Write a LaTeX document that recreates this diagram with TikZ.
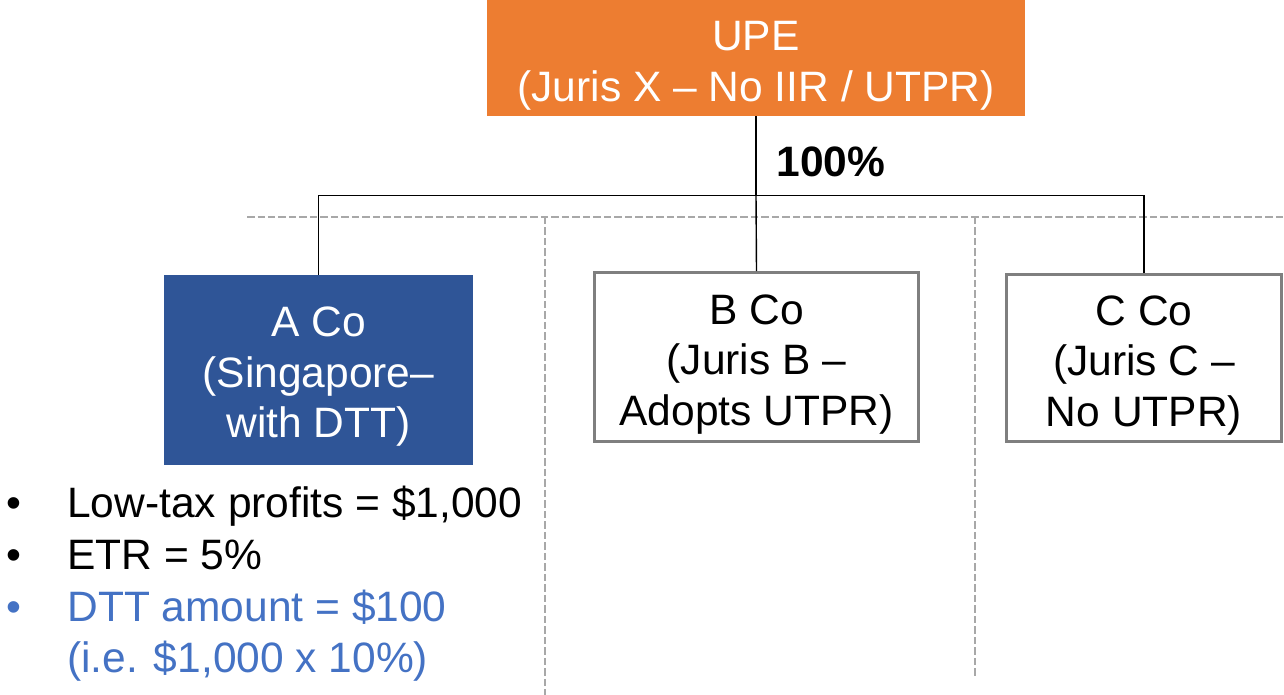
\documentclass[tikz,border=0pt]{standalone}
\usepackage{fontspec}
\setmainfont{Liberation Sans}
\usepackage{xcolor}
\definecolor{parent}{RGB}{237,125,49}
\definecolor{singapore}{RGB}{47,85,151}
\definecolor{dttblue}{RGB}{68,114,196}
\definecolor{boxgray}{RGB}{127,127,127}
\definecolor{divider}{RGB}{168,168,168}
\newcommand{\chartfont}{\fontsize{24.2}{29}\selectfont}
\tikzstyle{entity}=[rectangle, align=center, inner sep=0pt, text height=83.5pt, font=\chartfont]
\tikzstyle{upe}=[fill=parent, text=white, text height=54.3pt, minimum width=10.76cm, minimum height=2.32cm]
\tikzstyle{sgco}=[fill=singapore, text=white, text height=82.4pt, minimum width=6.18cm, minimum height=3.8cm]
\tikzstyle{subco}=[draw=boxgray, line width=1.7pt, fill=white]
\tikzset{own/.style={line width=0.8pt, black}}
\tikzset{divider line/.style={line width=1.25pt, color=divider, dash pattern=on 0.15cm off 0.06cm}}

\begin{document}
\begin{tikzpicture}[x=0.02cm,y=-0.02cm]
  \useasboundingbox (0,0) rectangle (1284,695);
  %% Dividers
  \draw[divider line] (247,217) -- (1284,217);
  \draw[divider line] (545,217) -- (545,695);
  \draw[divider line] (975,217) -- (975,676);

  \draw (756,58) node[entity,upe] (UPE) {UPE\\(Juris X – No IIR / UTPR)};
  \draw (318.5,370) node[entity,sgco] (ACo) {A Co\\(Singapore–\\with DTT)};
  \draw (756.5,357) node[entity,subco,minimum width=6.48cm,minimum height=3.38cm] (BCo) {B Co\\(Juris B –\\Adopts UTPR)};
  \draw (1144,358) node[entity,subco,minimum width=5.5cm,minimum height=3.34cm] (CCo) {C Co\\(Juris C –\\No UTPR)};

  %% Ownership
  \draw[own] (UPE.south) -- ++(0,79) coordinate (hub);
  \draw[own] (ACo.north) |- (hub) -| (CCo.north);
  \draw[own] (hub) -- (BCo.north);
  \node[anchor=west, font=\chartfont\bfseries, inner sep=0pt] (share) at ([shift={(20,-33)}]hub) {100\%};

  %% Facts on A Co
  \draw (6,585) node[anchor=west, inner sep=0pt, font=\fontsize{24.2}{29.4}\selectfont] (facts) {%
    \begin{tabular}{@{}l@{}l@{}}
      \makebox[1.22cm][l]{•} & Low-tax profits = \$1,000\\
      \makebox[1.22cm][l]{•} & ETR = 5\%\\
      \makebox[1.22cm][l]{\color{dttblue}•} & \color{dttblue}DTT amount = \$100\\
       & \color{dttblue}(i.e. \$1,000 x 10\%)
    \end{tabular}};
\end{tikzpicture}
\end{document}
